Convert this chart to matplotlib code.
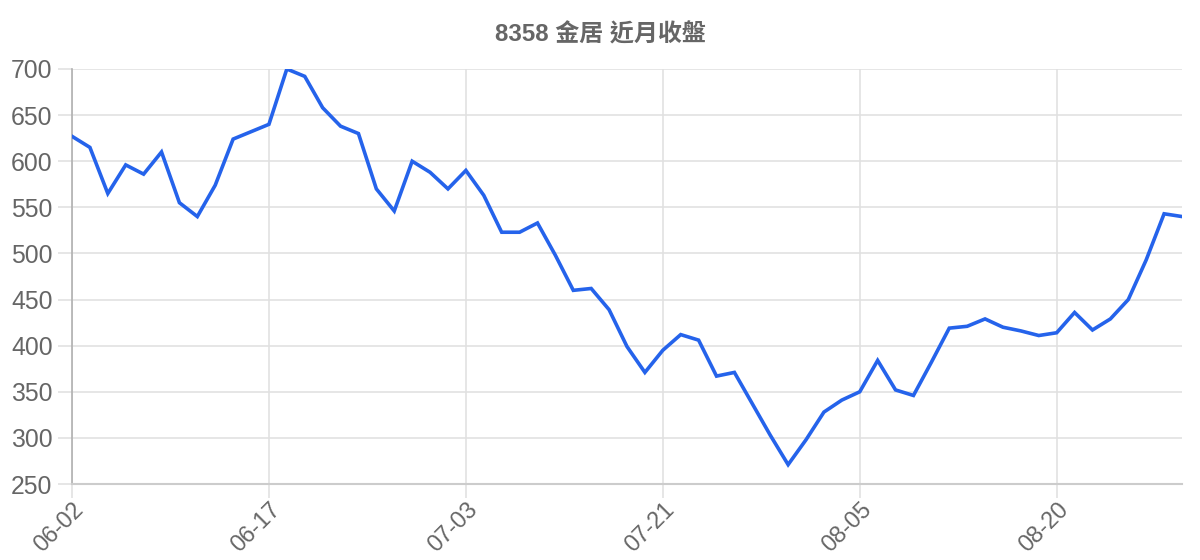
import matplotlib
matplotlib.use("Agg")
import matplotlib.pyplot as plt

plt.rcParams['font.family'] = ['Liberation Sans', 'Noto Sans CJK TC', 'DejaVu Sans']

title = "8358 金居 近月收盤"

# closing prices, one per trading day
closes = [627, 615, 565, 596, 586, 610, 555, 540, 574, 624,
          632, 640, 700, 692, 658, 638, 630, 570, 546, 600,
          588, 570, 590, 563, 523, 523, 533, 498, 460, 462,
          439, 399, 371, 395, 412, 406, 367, 371, 337, 303,
          271, 298, 328, 341, 350, 384, 352, 346, 382, 419,
          421, 429, 420, 416, 411, 414, 436, 417, 429, 450,
          493, 543, 540]

tick_idx = [0, 11, 22, 33, 44, 55]
tick_labels = ["06-02", "06-17", "07-03", "07-21", "08-05", "08-20"]
y_ticks = [250, 300, 350, 400, 450, 500, 550, 600, 650, 700]

text_c = "#666666"
grid_c = "#e1e1e1"

fig = plt.figure(figsize=(12, 5.6), dpi=100)
ax = fig.add_axes([0.06, 0.1357, 0.925, 0.7411])

x = list(range(len(closes)))
ax.plot(x, closes, color="#2563eb", lw=2.6, solid_joinstyle="miter", zorder=3)

ax.set_xlim(0, len(closes) - 1)
ax.set_ylim(250, 700)
ax.set_yticks(y_ticks)
ax.set_xticks(tick_idx)
ax.set_xticklabels(tick_labels, rotation=45, ha="right", va="top",
                   rotation_mode="anchor")

ax.grid(True, color=grid_c, lw=1.2)
ax.set_axisbelow(True)
ax.tick_params(axis="both", colors=grid_c, labelcolor=text_c, labelsize=17.8,
               width=1.2)
ax.tick_params(axis="y", length=10, pad=4)
ax.tick_params(axis="x", length=10, pad=0, labelsize=16.8)

for s in ["top", "right"]:
    ax.spines[s].set_visible(False)
ax.spines["left"].set_color("#b0b0b0")
ax.spines["left"].set_linewidth(1.2)
ax.spines["bottom"].set_color("#cccccc")
ax.spines["bottom"].set_linewidth(1.5)

fig.text(0.5, 0.937, title, ha="center", va="center", fontsize=17.3,
         fontweight="bold", color=text_c)

fig.savefig("out.png", dpi=100, facecolor="white")
